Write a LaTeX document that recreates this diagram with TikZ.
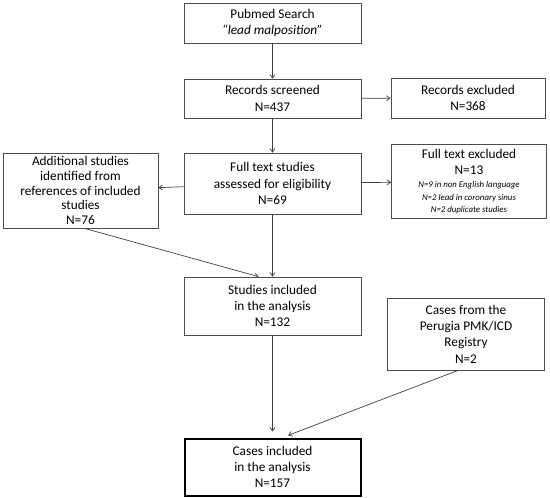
\documentclass[tikz,border=0pt]{standalone}
\usepackage{fontspec}
\setmainfont{Carlito}
\usepackage{tikz}
\usetikzlibrary{positioning, arrows.meta}

\begin{document}
\begin{tikzpicture}[x=1pt, y=-1pt, >={Straight Barb[length=3.5pt, width=5pt]}]

	\tikzstyle{stage} = [rectangle, draw=black!70, line width=0.8pt, inner sep=0pt, align=center, font=\fontsize{13.3}{16.3}\selectfont]
	\tikzstyle{flow} = [draw=black!75, line width=0.7pt, ->]
	\newcommand{\smallnote}{\fontsize{8.8}{12}\selectfont\itshape}

	\useasboundingbox (0,0) rectangle (550,498);

	% Define nodes
	\node[stage, minimum width=177pt, minimum height=40pt] (pubmed) at (272.5,23) {Pubmed Search\\ \textit{``lead malposition''}};
	\node[stage, minimum width=177pt, minimum height=39pt] (screened) at (272.5,98.5) {Records screened\\ N=437};
	\node[stage, minimum width=154pt, minimum height=40pt] (recexcl) at (468,98) {Records excluded\\ N=368};
	\node[stage, minimum width=177pt, minimum height=61pt] (fulltext) at (272.5,183.5) {Full text studies\\ assessed for eligibility\\ N=69};
	\node[stage, minimum width=155pt, minimum height=74pt] (ftexcl) at (469,181.5) {Full text excluded\\ N=13\\[-3pt]
		{\smallnote N=9 in non English language}\\[-4pt]
		{\smallnote N=2 lead in coronary sinus}\\[-4pt]
		{\smallnote N=2 duplicate studies}};
	\node[stage, font=\fontsize{13.3}{14.6}\selectfont, minimum width=155pt, minimum height=75pt] (additional) at (80.5,190.5) {Additional studies\\ identified from\\ references of included\\ studies\\ N=76};
	\node[stage, minimum width=177pt, minimum height=58pt] (included) at (272.5,306) {Studies included\\ in the analysis\\ N=132};
	\node[stage, minimum width=157pt, minimum height=72pt] (perugia) at (466,334) {Cases from the\\ Perugia PMK/ICD\\ Registry\\ N=2};
	\node[stage, line width=2pt, draw=black, minimum width=176pt, minimum height=57pt] (cases) at (272.5,467) {Cases included\\ in the analysis\\ N=157};

	% Draw arrows
	\draw[flow] (pubmed) -- (screened);
	\draw[flow] (screened) -- (recexcl);
	\draw[flow] (screened) -- (fulltext);
	\draw[flow] (fulltext) -- (ftexcl);
	\draw[flow] (fulltext) -- (additional);
	\draw[flow] (fulltext) -- (included);
	\draw[flow] ([xshift=4pt]additional.south) -- ([xshift=-14pt]included.north);
	\draw[flow, shorten >=6pt] (included) -- (cases);
	\draw[flow, shorten >=6pt] ([xshift=-8pt]perugia.south) -- ([xshift=10pt]cases.north);

\end{tikzpicture}
\end{document}
